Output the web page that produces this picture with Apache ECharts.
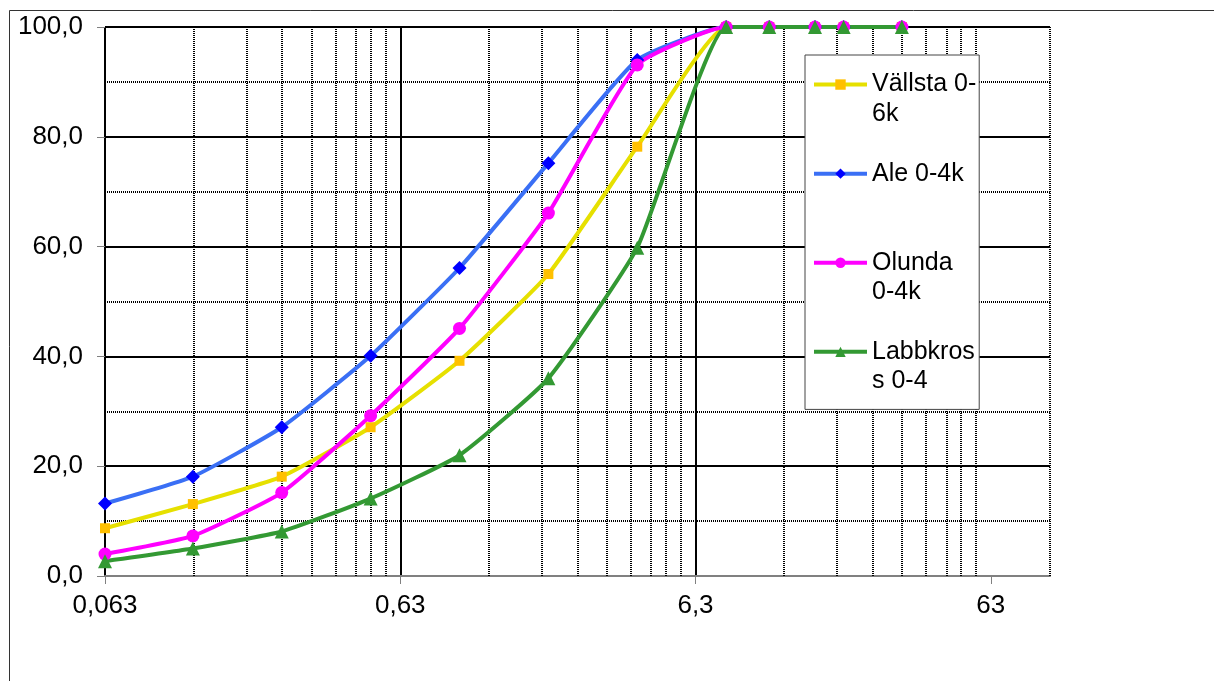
<!DOCTYPE html>
<html>
<head>
<meta charset="utf-8">
<script src="https://cdn.jsdelivr.net/npm/echarts@6/dist/echarts.min.js"></script>
<style>
    html, body { margin: 0; padding: 0; background: #fff; }
    #chart { width: 1214px; height: 681px; }
</style>
</head>
<body>
<div id="chart"></div>
<script>
// sieve sizes (mm) and passing percentages
var sizes = [0.063, 0.125, 0.25, 0.5, 1, 2, 4, 8, 11.2, 16, 20, 31.5];
var vallsta = [8.7, 13.1, 18.1, 27.1, 39.2, 55.0, 78.2, 100, 100, 100, 100, 100];
var ale = [13.2, 18.1, 27.1, 40.1, 56.1, 75.2, 94.0, 100, 100, 100, 100, 100];
var olunda = [4.0, 7.3, 15.2, 29.2, 45.1, 66.1, 93.1, 100, 100, 100, 100, 100];
var labbkross = [2.7, 5.0, 8.1, 14.1, 22.0, 36.0, 59.8, 100, 100, 100, 100, 100];
var seriesNames = ["Vällsta 0-6k", "Ale 0-4k", "Olunda 0-4k", "Labbkross 0-4"];
// legend text as wrapped in the original box
var legendLabels = ["Vällsta 0-\n6k", "Ale 0-4k", "Olunda\n0-4k", "Labbkros\ns 0-4"];
var xBase = 0.063;
var xMaxValue = 100;
var xMajorTicks = [0, 1, 2, 3];

(function () {
    var font = "'Liberation Sans', Arial, sans-serif";

    // x axis is log10(size / 0.063)
    function toX(v) {
        return Math.log10(v / xBase);
    }
    function pairs(values) {
        var out = [];
        for (var i = 0; i < sizes.length; i++) {
            out.push([toX(sizes[i]), values[i]]);
        }
        return out;
    }
    function fmt(v) {
        return String(v).replace(".", ",");
    }

    // minor vertical grid lines: 2..9 times each decade, plus right border
    var minorLines = [];
    for (var d = 0; d < 4; d++) {
        for (var k = 2; k <= 9; k++) {
            var val = d + Math.log10(k);
            if (val < toX(xMaxValue)) {
                minorLines.push({ xAxis: val });
            }
        }
    }
    minorLines.push({ xAxis: toX(xMaxValue) });

    var dotted = { color: "#000", width: 2, type: [1, 1] };

    var chart = echarts.init(document.getElementById("chart"));
    var option = {
        animation: false,
        backgroundColor: "#fff",
        textStyle: { fontFamily: font },
        graphic: [
            {
                type: "rect",
                silent: true,
                shape: { x: 9.5, y: 10.5, width: 1400, height: 900 },
                style: { fill: "none", stroke: "#333", lineWidth: 1 }
            }
        ],
        grid: {
            left: 105,
            top: 27,
            right: 164,
            bottom: 105
        },
        legend: {
            orient: "vertical",
            left: 805,
            top: 55,
            padding: [-15, 3, 13, 7],
            itemWidth: 53,
            itemHeight: 13,
            itemGap: 0,
            backgroundColor: "#fff",
            borderColor: "#444",
            borderWidth: 1,
            borderRadius: 0,
            lineStyle: { width: 4 },
            data: seriesNames,
            formatter: function (name) {
                // blank line on top keeps the icon on the first text line
                var lines = legendLabels[seriesNames.indexOf(name)].split("\n");
                if (lines.length < 2) {
                    lines.push(" ");
                }
                return " \n" + lines.join("\n");
            },
            textStyle: {
                fontFamily: font,
                fontSize: 25,
                lineHeight: 29.7,
                color: "#000"
            }
        },
        xAxis: {
            type: "value",
            min: 0,
            max: toX(xMaxValue),
            interval: 1,
            axisLine: { show: true, onZero: false, lineStyle: { color: "#808080", width: 2 } },
            axisTick: {
                show: true,
                customValues: xMajorTicks,
                length: 8,
                lineStyle: { color: "#808080", width: 1 }
            },
            axisLabel: {
                customValues: xMajorTicks,
                margin: 17,
                fontSize: 26,
                color: "#000",
                fontFamily: font,
                formatter: function (v) {
                    return fmt(parseFloat((xBase * Math.pow(10, v)).toPrecision(3)));
                }
            },
            splitLine: {
                show: true,
                showMaxLine: false,
                lineStyle: { color: "#000", width: 2 }
            }
        },
        yAxis: {
            type: "value",
            min: 0,
            max: 100,
            interval: 20,
            axisLine: { show: false },
            axisTick: {
                show: true,
                inside: false,
                length: 8,
                lineStyle: { color: "#808080", width: 1 }
            },
            axisLabel: {
                margin: 22,
                fontSize: 26,
                color: "#000",
                fontFamily: font,
                formatter: function (v) {
                    return v.toFixed(1).replace(".", ",");
                }
            },
            splitLine: {
                show: true,
                showMinLine: false,
                lineStyle: { color: "#000", width: 2 }
            },
            minorTick: { show: false, splitNumber: 2 },
            minorSplitLine: {
                show: true,
                lineStyle: dotted
            }
        },
        series: [
            {
                name: seriesNames[0],
                type: "line",
                smooth: 0.15,
                data: pairs(vallsta),
                symbol: "rect",
                symbolSize: 10,
                lineStyle: { color: "#e6e000", width: 4 },
                itemStyle: { color: "#ffc000" },
                markLine: {
                    silent: true,
                    z: 1,
                    symbol: "none",
                    label: { show: false },
                    lineStyle: dotted,
                    data: minorLines
                }
            },
            {
                name: seriesNames[1],
                type: "line",
                smooth: 0.15,
                data: pairs(ale),
                symbol: "diamond",
                symbolSize: 14,
                lineStyle: { color: "#3a6ff5", width: 4 },
                itemStyle: { color: "#0000ff" }
            },
            {
                name: seriesNames[2],
                type: "line",
                smooth: 0.15,
                data: pairs(olunda),
                symbol: "circle",
                symbolSize: 13,
                lineStyle: { color: "#ff00ff", width: 4 },
                itemStyle: { color: "#ff00ff" }
            },
            {
                name: seriesNames[3],
                type: "line",
                smooth: 0.15,
                data: pairs(labbkross),
                symbol: "triangle",
                symbolSize: 14,
                lineStyle: { color: "#339933", width: 4 },
                itemStyle: { color: "#339933" }
            }
        ]
    };
    chart.setOption(option, true);
})();
</script>
</body>
</html>
